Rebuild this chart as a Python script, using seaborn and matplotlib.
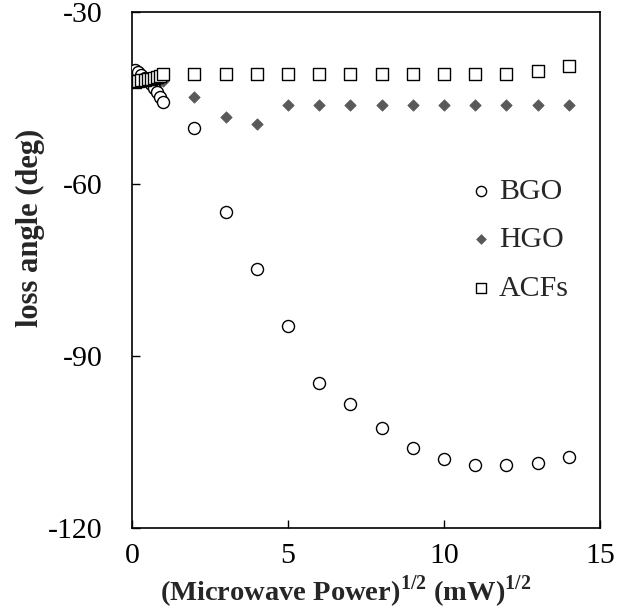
import numpy as np
import pandas as pd
import matplotlib
matplotlib.use("Agg")
import matplotlib.pyplot as plt
import seaborn as sns

sns.set_style("white")
plt.rcParams['font.family'] = ['Liberation Serif', 'DejaVu Serif']
plt.rcParams['mathtext.fontset'] = 'custom'
plt.rcParams['mathtext.rm'] = 'Liberation Serif'
plt.rcParams['mathtext.bf'] = 'Liberation Serif:bold'
plt.rcParams['axes.unicode_minus'] = False

# Data (sqrt of microwave power, loss angle in degrees)
bgo_x = [0.1, 0.2, 0.3, 0.4, 0.5, 0.6, 0.7, 0.8, 0.9, 1.0,
         2, 3, 4, 5, 6, 7, 8, 9, 10, 11, 12, 13, 14]
bgo_y = [-40.0, -40.5, -41.0, -41.5, -42.0, -42.6, -43.2, -44.0, -44.8, -45.6,
         -50.2, -64.9, -74.8, -84.8, -94.6, -98.4, -102.6, -106.0, -108.0, -108.9, -109.0, -108.6, -107.5]

hgo_x = [0.1, 0.2, 0.3, 0.4, 0.5, 0.6, 0.7, 0.8, 0.9, 1.0,
         2, 3, 4, 5, 6, 7, 8, 9, 10, 11, 12, 13, 14]
hgo_y = [-42.0, -42.0, -42.0, -42.0, -42.0, -42.0, -42.0, -42.0, -42.0, -42.0,
         -44.7, -48.2, -49.5, -46.2, -46.2, -46.2, -46.2, -46.2, -46.2, -46.2, -46.2, -46.2, -46.2]

acf_x = [0.1, 0.2, 0.3, 0.4, 0.5, 0.6, 0.7, 0.8, 0.9, 1.0,
         2, 3, 4, 5, 6, 7, 8, 9, 10, 11, 12, 13, 14]
acf_y = [-42.1, -42.0, -41.9, -41.8, -41.7, -41.6, -41.5, -41.3, -41.1, -40.8,
         -40.8, -40.8, -40.8, -40.8, -40.8, -40.8, -40.8, -40.8, -40.8, -40.8, -40.8, -40.2, -39.3]

x_ticks = [0, 5, 10, 15]
y_ticks = [-120, -90, -60, -30]

df_bgo = pd.DataFrame({"x": bgo_x, "y": bgo_y})
df_hgo = pd.DataFrame({"x": hgo_x, "y": hgo_y})
df_acf = pd.DataFrame({"x": acf_x, "y": acf_y})

FS = 21.5

fig = plt.figure(figsize=(6.29, 6.12), dpi=100)
ax = fig.add_axes([0.21, 0.137, 0.744, 0.843])

sns.scatterplot(data=df_bgo, x="x", y="y", ax=ax, marker="o", s=75,
                facecolor="white", edgecolor="black", linewidth=1.0, label="BGO", zorder=3)
sns.scatterplot(data=df_hgo, x="x", y="y", ax=ax, marker="D", s=34,
                color="#595959", edgecolor="#595959", linewidth=0.5, label="HGO", zorder=2)
sns.scatterplot(data=df_acf, x="x", y="y", ax=ax, marker="s", s=75,
                facecolor="white", edgecolor="black", linewidth=1.0, label="ACFs", zorder=4)

ax.set_xlim(0, 15)
ax.set_ylim(-120, -30)
ax.set_xticks(x_ticks)
ax.set_yticks(y_ticks)
ax.set_xticklabels([str(v) for v in x_ticks])
ax.set_yticklabels([str(v) for v in y_ticks])
ax.tick_params(axis='both', direction='in', length=6, width=1, labelsize=FS,
               bottom=True, left=True, top=False, right=False, colors='black')
ax.tick_params(axis='y', pad=21)
ax.tick_params(axis='x', pad=11)

for sp in ax.spines.values():
    sp.set_color("black")
    sp.set_linewidth(1.2)

ax.set_xlabel(r'(Microwave Power)$^{\mathbf{1/2}}$ (mW)$^{\mathbf{1/2}}$',
              fontsize=20.5, fontweight='bold')
ax.set_ylabel('loss angle (deg)', fontsize=22, fontweight='bold')
ax.xaxis.set_label_coords(0.457, -0.088)
ax.yaxis.set_label_coords(-0.186, 0.583)

leg = ax.legend(loc='center left', bbox_to_anchor=(0.72, 0.559), frameon=False,
                fontsize=FS, handlelength=0.8, handletextpad=0.2, labelspacing=0.72,
                borderaxespad=0, borderpad=0, markerscale=0.85)

fig.savefig("out.png", dpi=100)
